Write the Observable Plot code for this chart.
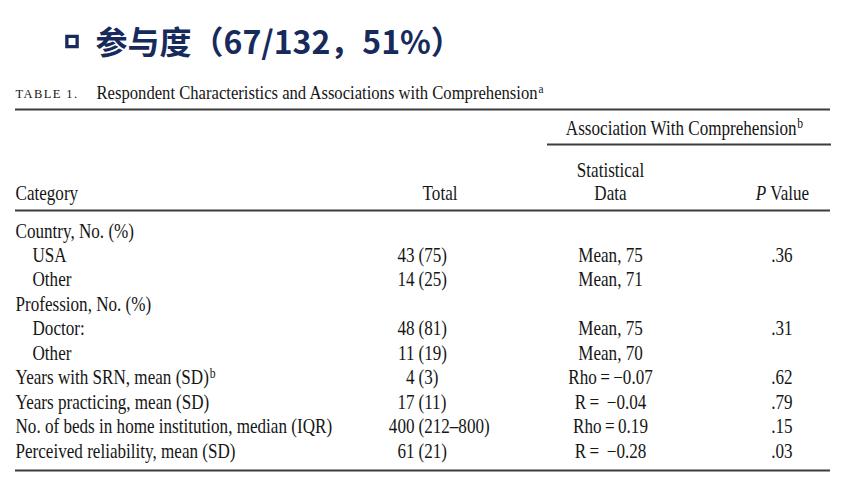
<!DOCTYPE html>
<html>
<head>
<meta charset="utf-8">
<script src="https://cdn.jsdelivr.net/npm/d3@7"></script>
<script src="https://cdn.jsdelivr.net/npm/@observablehq/plot@0.6"></script>
<style>
  html, body { margin: 0; padding: 0; background: #fff; }
  svg { display: block; }
</style>
</head>
<body>
<div id="chart"></div>
<script>
// ---- Data ----
const slideTitle = "参与度（67/132，51%）";
const tableLabel = "TABLE 1.";
const tableTitle = "Respondent Characteristics and Associations with Comprehension^a";
const groupHeader = "Association With Comprehension^b";
const colHeaders = ["Category", "Total", "Statistical", "Data", "P Value"];

const rowLabels = [
  "Country, No. (%)", "USA", "Other",
  "Profession, No. (%)", "Doctor:", "Other",
  "Years with SRN, mean (SD)^b",
  "Years practicing, mean (SD)",
  "No. of beds in home institution, median (IQR)",
  "Perceived reliability, mean (SD)"
];
const rowIndent = [0, 1, 1, 0, 1, 1, 0, 0, 0, 0];
const totalCount = [null, "43", "14", null, "48", "11", "4", "17", "400", "61"];
const totalRange = [null, "(75)", "(25)", null, "(81)", "(19)", "(3)", "(11)", "(212–800)", "(21)"];
const statData = [null, "Mean, 75", "Mean, 71", null, "Mean, 75", "Mean, 70",
  "Rho\u2009=\u2009−0.07", "R\u2009=\u2009 −0.04", "Rho\u2009=\u20090.19", "R\u2009=\u2009 −0.28"];
const pValues = [null, ".36", null, null, ".31", null, ".62", ".79", ".15", ".03"];

// ---- Layout ----
const W = 848, H = 482;
const L = {
  left: 15, indent: 32, right: 830,
  totalNum: 414, totalParen: 418, totalHead: 457,
  stat: 610, pval: 792, pHead: 782,
  subRuleX1: 547, groupHead: 684,
  rowY0: 237, rowStep: 24.45,
  titleY: 43, squareX: 71.5, titleX: 95,
  captionY: 98, captionX: 96,
  ruleTop: 109, ruleSub: 144, ruleHead: 210, ruleBottom: 470,
  groupHeadY: 134, statY: 176, headY: 199
};
const navy = "#172a5c", ink = "#161616", ruleColor = "#3c3c3c";
const serif = "Liberation Serif, Times New Roman, serif";
const fs = 20, sx = 0.855;

const rows = rowLabels.map((label, i) => ({
  label, i, indent: rowIndent[i], count: totalCount[i], range: totalRange[i],
  stat: statData[i], p: pValues[i]
}));
const rowY = d => L.rowY0 + d.i * L.rowStep;

const T = (data, o) => Plot.text(data, {fontFamily: serif, fontSize: fs, fill: ink, lineAnchor: "bottom", ...o});

const chart = Plot.plot({
  width: W, height: H,
  margin: 0,
  x: {domain: [0, W], range: [0, W], axis: null},
  y: {domain: [0, H], range: [0, H], axis: null},
  marks: [
    // slide title
    Plot.dot([slideTitle], {x: () => L.squareX, y: () => L.titleY - 2, symbol: "square", r: 5.8, stroke: navy, strokeWidth: 3.3, fill: "none"}),
    Plot.text([slideTitle], {x: () => L.titleX, y: () => L.titleY, text: d => d, textAnchor: "start", lineAnchor: "middle",
      fontFamily: "Noto Sans CJK SC", fontWeight: "bold", fontSize: 32, fill: navy}),
    // caption
    Plot.text([tableLabel], {x: () => L.left, y: () => L.captionY - 1, text: d => d, textAnchor: "start", lineAnchor: "bottom",
      fontFamily: "Liberation Serif", fontSize: 12.5, fill: ink}),
    T([tableTitle], {x: () => L.captionX, y: () => L.captionY, text: d => d, textAnchor: "start", fontSize: 18.5}),
    // rules
    Plot.ruleY([L.ruleTop, L.ruleHead, L.ruleBottom], {x1: L.left, x2: L.right, stroke: ruleColor, strokeWidth: 2}),
    Plot.ruleY([L.ruleSub], {x1: L.subRuleX1, x2: L.right + 1, stroke: ruleColor, strokeWidth: 1.8}),
    // headers
    T([groupHeader], {x: () => L.groupHead, y: () => L.groupHeadY, text: d => d, textAnchor: "middle"}),
    T([colHeaders[0]], {x: () => L.left, y: () => L.headY, text: d => d, textAnchor: "start"}),
    T([colHeaders[1]], {x: () => L.totalHead, y: () => L.headY, text: d => d, textAnchor: "end"}),
    T([colHeaders[2]], {x: () => L.stat, y: () => L.statY, text: d => d, textAnchor: "middle"}),
    T([colHeaders[3]], {x: () => L.stat, y: () => L.headY, text: d => d, textAnchor: "middle"}),
    T([colHeaders[4]], {x: () => L.pHead, y: () => L.headY, text: d => d, textAnchor: "middle"}),
    // body
    T(rows, {x: d => d.indent ? L.indent : L.left, y: rowY, text: "label", textAnchor: "start"}),
    T(rows.filter(d => d.count), {x: () => L.totalNum, y: rowY, text: "count", textAnchor: "end"}),
    T(rows.filter(d => d.range), {x: () => L.totalParen, y: rowY, text: "range", textAnchor: "start"}),
    T(rows.filter(d => d.stat), {x: () => L.stat, y: rowY, text: "stat", textAnchor: "middle"}),
    T(rows.filter(d => d.p), {x: () => L.pval, y: rowY, text: "p", textAnchor: "end"})
  ]
});

document.getElementById("chart").appendChild(chart);

// superscripts, italic P, letter spacing, condensed serif
chart.querySelectorAll("text").forEach(el => {
  const s = el.textContent;
  if (s.includes("^")) {
    const [main, sup] = s.split("^");
    el.textContent = main;
    const t = document.createElementNS("http://www.w3.org/2000/svg", "tspan");
    t.setAttribute("dy", "-0.45em");
    t.setAttribute("font-size", "0.68em");
    t.setAttribute("dx", "1");
    t.textContent = sup;
    el.appendChild(t);
  }
  if (s === "P Value") {
    el.textContent = "";
    const a = document.createElementNS("http://www.w3.org/2000/svg", "tspan");
    a.setAttribute("font-style", "italic");
    a.textContent = "P";
    el.appendChild(a);
    el.appendChild(document.createTextNode(" Value"));
  }
  if (s === tableLabel) el.setAttribute("letter-spacing", "1.4");
});
const scaleText = (sel, k) => chart.querySelectorAll(sel).forEach(el => {
  const tr = el.getAttribute("transform");
  if (tr) el.setAttribute("transform", tr + ` scale(${k},1)`);
  else {
    const x = el.getAttribute("x") || 0, y = el.getAttribute("y") || 0;
    el.removeAttribute("x"); el.removeAttribute("y");
    el.setAttribute("transform", `translate(${x},${y}) scale(${k},1)`);
  }
});
scaleText('g[font-size="' + fs + '"] text', sx);
scaleText('g[font-size="18.5"] text', 0.9);
</script>
</body>
</html>
